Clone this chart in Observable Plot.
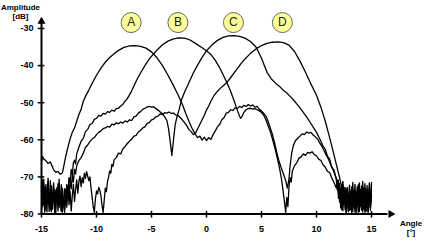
<!DOCTYPE html>
<html>
<head>
<meta charset="utf-8">
<script src="https://cdn.jsdelivr.net/npm/d3@7"></script>
<script src="https://cdn.jsdelivr.net/npm/@observablehq/plot@0.6"></script>
<style>
  html, body { margin: 0; padding: 0; background: #fff; }
  #chart svg { display: block; }
</style>
</head>
<body>
<div id="chart"></div>
<script>
// ---- data: [angle °, amplitude dB] ----
const curveA = [[-15.0,-65.8],[-14.9,-64.5],[-14.8,-65.2],[-14.6,-65.6],[-14.4,-66.4],[-14.2,-66.0],[-14.0,-67.3],[-13.9,-68.1],[-13.7,-68.8],[-13.5,-68.5],[-13.3,-69.3],[-13.1,-68.9],[-13.0,-67.5],[-12.8,-64.5],[-12.6,-62.0],[-12.4,-59.8],[-12.2,-58.0],[-12.0,-56.8],[-11.8,-55.0],[-11.6,-53.2],[-11.4,-51.8],[-11.2,-49.6],[-11.0,-48.3],[-10.7,-46.6],[-10.4,-44.8],[-10.0,-42.6],[-9.6,-40.7],[-9.2,-39.1],[-8.8,-37.8],[-8.4,-36.8],[-8.0,-35.9],[-7.5,-35.1],[-7.0,-34.7],[-6.5,-34.6],[-6.0,-34.8],[-5.5,-35.3],[-5.0,-36.3],[-4.5,-37.9],[-4.0,-40.0],[-3.5,-42.6],[-3.0,-45.4],[-2.6,-47.8],[-2.2,-50.4],[-1.9,-52.8],[-1.6,-55.0],[-1.3,-57.0],[-1.0,-58.6],[-0.8,-59.4],[-0.6,-59.0],[-0.4,-60.1],[-0.2,-59.3],[0.0,-60.2],[0.2,-59.4],[0.4,-59.9],[0.6,-58.6],[0.8,-57.6],[1.0,-56.5],[1.2,-55.8],[1.4,-54.6],[1.6,-54.0],[1.8,-52.8],[2.0,-52.6],[2.2,-51.9],[2.4,-52.1],[2.6,-51.4],[2.8,-51.6],[3.0,-51.0],[3.2,-51.3],[3.4,-50.7],[3.6,-51.0],[3.8,-50.5],[4.0,-50.9],[4.2,-50.6],[4.4,-51.2],[4.6,-51.0],[4.8,-51.8],[5.0,-52.2],[5.2,-52.9],[5.4,-53.6],[5.6,-55.0],[5.8,-56.8],[6.0,-58.6],[6.2,-61.0],[6.4,-63.5],[6.6,-65.8],[6.8,-67.6],[7.0,-69.2],[7.2,-71.0],[7.35,-73.0],[7.5,-70.5],[7.6,-67.0],[7.75,-63.5],[7.9,-61.5],[8.1,-60.2],[8.3,-59.6],[8.5,-59.0],[8.7,-58.4],[8.9,-58.6],[9.1,-57.9],[9.3,-58.2],[9.5,-58.0],[9.7,-58.7],[9.9,-59.2],[10.1,-59.8],[10.3,-60.9],[10.5,-61.8],[10.7,-63.0],[10.9,-64.2],[11.1,-65.3],[11.3,-66.8],[11.5,-68.0],[11.7,-69.6],[11.9,-71.0],[12.0,-73.5],[12.1,-71.8],[12.2,-75.2],[12.3,-72.4],[12.4,-77.6],[12.5,-74.0],[12.6,-78.8],[12.7,-73.2],[12.8,-76.5],[12.9,-79.2],[13.0,-74.8],[13.1,-77.9],[13.2,-72.6],[13.3,-78.4],[13.4,-75.3],[13.5,-79.5],[13.6,-73.8],[13.7,-77.0],[13.8,-72.1],[13.9,-78.6],[14.0,-75.6],[14.1,-79.0],[14.2,-73.0],[14.3,-77.4],[14.4,-71.8],[14.5,-78.2],[14.6,-74.4],[14.7,-79.3],[14.8,-72.9],[14.9,-76.8],[15.0,-73.5]];

const curveB = [[-15.0,-72.5],[-14.9,-78.0],[-14.8,-70.6],[-14.7,-76.2],[-14.6,-73.0],[-14.5,-79.4],[-14.4,-71.2],[-14.3,-75.8],[-14.2,-78.9],[-14.1,-72.4],[-14.0,-77.3],[-13.9,-74.1],[-13.8,-79.6],[-13.7,-73.5],[-13.6,-76.9],[-13.5,-71.8],[-13.4,-78.2],[-13.3,-74.6],[-13.2,-79.3],[-13.1,-75.0],[-13.0,-77.8],[-12.9,-73.2],[-12.8,-76.4],[-12.7,-72.0],[-12.6,-74.5],[-12.5,-70.2],[-12.4,-71.5],[-12.3,-68.0],[-12.2,-69.4],[-12.1,-66.2],[-12.0,-65.5],[-11.9,-66.5],[-11.8,-63.8],[-11.6,-62.0],[-11.4,-60.4],[-11.2,-59.6],[-11.0,-57.8],[-10.8,-57.2],[-10.6,-55.9],[-10.4,-55.6],[-10.2,-54.5],[-10.0,-54.2],[-9.8,-53.4],[-9.6,-53.6],[-9.4,-52.9],[-9.2,-53.1],[-9.0,-52.4],[-8.8,-52.6],[-8.6,-52.0],[-8.4,-52.3],[-8.2,-51.6],[-8.0,-51.5],[-7.8,-50.9],[-7.6,-50.4],[-7.4,-49.6],[-7.2,-48.9],[-7.0,-47.9],[-6.8,-46.8],[-6.6,-45.5],[-6.3,-43.6],[-6.0,-42.0],[-5.6,-40.0],[-5.2,-38.2],[-4.8,-36.8],[-4.4,-35.5],[-4.0,-34.4],[-3.5,-33.4],[-3.0,-32.8],[-2.5,-32.5],[-2.0,-32.6],[-1.5,-33.1],[-1.0,-34.0],[-0.5,-35.0],[0.0,-36.0],[0.4,-37.0],[0.8,-38.6],[1.2,-40.6],[1.6,-43.0],[1.9,-44.9],[2.2,-47.0],[2.5,-49.4],[2.8,-52.0],[3.0,-53.6],[3.1,-54.2],[3.25,-53.6],[3.4,-52.6],[3.6,-51.9],[3.8,-51.6],[4.0,-51.5],[4.2,-51.7],[4.4,-51.6],[4.6,-51.9],[4.8,-52.2],[5.0,-52.6],[5.2,-53.4],[5.4,-54.6],[5.6,-56.2],[5.8,-57.8],[6.0,-59.8],[6.2,-62.0],[6.4,-64.5],[6.6,-67.0],[6.8,-70.2],[6.95,-73.5],[7.1,-77.0],[7.2,-79.6],[7.3,-75.5],[7.4,-78.0],[7.5,-72.6],[7.6,-70.2],[7.7,-71.4],[7.8,-68.5],[8.0,-67.0],[8.2,-66.2],[8.4,-65.0],[8.6,-64.6],[8.8,-63.8],[9.0,-64.2],[9.2,-63.4],[9.4,-63.6],[9.6,-63.2],[9.8,-64.0],[10.0,-64.3],[10.2,-65.2],[10.4,-65.6],[10.6,-66.8],[10.8,-67.4],[11.0,-68.5],[11.2,-68.9],[11.4,-70.4],[11.6,-71.6],[11.8,-73.0],[11.9,-71.4],[12.0,-75.8],[12.1,-73.1],[12.2,-78.4],[12.3,-74.6],[12.4,-79.1],[12.5,-72.8],[12.6,-76.9],[12.7,-79.5],[12.8,-74.0],[12.9,-77.5],[13.0,-72.2],[13.1,-78.8],[13.2,-75.4],[13.3,-79.4],[13.4,-73.6],[13.5,-76.6],[13.6,-79.2],[13.7,-74.9],[13.8,-78.0],[13.9,-71.6],[14.0,-77.2],[14.1,-74.3],[14.2,-79.5],[14.3,-73.0],[14.4,-76.0],[14.5,-79.1],[14.6,-72.3],[14.7,-77.6],[14.8,-74.8],[14.9,-79.0],[15.0,-75.0]];

const curveC = [[-15.0,-74.0],[-14.9,-70.8],[-14.8,-77.4],[-14.7,-72.6],[-14.6,-79.0],[-14.5,-74.8],[-14.4,-70.4],[-14.3,-77.8],[-14.2,-73.5],[-14.1,-79.4],[-14.0,-75.2],[-13.9,-71.6],[-13.8,-78.1],[-13.7,-76.0],[-13.6,-72.9],[-13.5,-79.2],[-13.4,-74.3],[-13.3,-77.0],[-13.2,-72.1],[-13.1,-79.5],[-13.0,-75.9],[-12.9,-78.6],[-12.8,-73.4],[-12.7,-76.8],[-12.6,-72.6],[-12.5,-75.1],[-12.4,-71.0],[-12.3,-73.2],[-12.2,-69.6],[-12.1,-71.4],[-12.0,-68.0],[-11.9,-69.2],[-11.8,-67.0],[-11.6,-65.6],[-11.4,-64.8],[-11.2,-63.6],[-11.0,-62.0],[-10.8,-61.4],[-10.6,-60.5],[-10.4,-59.8],[-10.2,-59.4],[-10.0,-58.6],[-9.8,-58.0],[-9.6,-57.6],[-9.4,-57.0],[-9.2,-56.8],[-9.0,-56.4],[-8.8,-56.6],[-8.6,-55.8],[-8.4,-56.0],[-8.2,-55.4],[-8.0,-55.7],[-7.8,-55.2],[-7.6,-55.5],[-7.4,-54.9],[-7.2,-55.2],[-7.0,-54.6],[-6.8,-54.8],[-6.6,-53.8],[-6.4,-53.6],[-6.2,-52.8],[-6.0,-52.4],[-5.8,-51.8],[-5.6,-51.5],[-5.4,-51.2],[-5.2,-51.0],[-5.0,-51.2],[-4.8,-51.1],[-4.6,-51.6],[-4.4,-52.0],[-4.2,-52.5],[-4.0,-53.0],[-3.8,-53.8],[-3.6,-54.8],[-3.45,-57.0],[-3.3,-60.5],[-3.15,-64.2],[-3.0,-60.0],[-2.85,-56.0],[-2.7,-54.0],[-2.5,-52.0],[-2.3,-49.5],[-2.0,-47.2],[-1.6,-44.6],[-1.2,-42.0],[-0.8,-39.8],[-0.4,-37.8],[0.0,-36.0],[0.5,-34.4],[1.0,-33.2],[1.5,-32.4],[2.0,-32.0],[2.5,-31.9],[3.0,-32.1],[3.5,-32.6],[4.0,-33.5],[4.5,-35.0],[5.0,-38.0],[5.5,-41.8],[5.9,-43.6],[6.3,-44.8],[6.7,-45.8],[7.0,-46.7],[7.3,-47.4],[7.6,-48.3],[7.9,-49.2],[8.2,-50.3],[8.5,-51.4],[8.8,-52.6],[9.1,-53.8],[9.4,-55.2],[9.7,-56.6],[10.0,-58.0],[10.2,-59.2],[10.4,-60.4],[10.6,-61.8],[10.8,-62.6],[11.0,-64.4],[11.2,-65.2],[11.4,-67.5],[11.6,-68.2],[11.8,-70.8],[11.9,-73.6],[12.0,-70.9],[12.1,-76.8],[12.2,-73.0],[12.3,-78.9],[12.4,-72.2],[12.5,-77.4],[12.6,-74.6],[12.7,-79.6],[12.8,-72.8],[12.9,-76.2],[13.0,-79.0],[13.1,-73.9],[13.2,-77.2],[13.3,-71.5],[13.4,-78.0],[13.5,-74.2],[13.6,-79.6],[13.7,-72.6],[13.8,-76.4],[13.9,-79.3],[14.0,-73.4],[14.1,-77.8],[14.2,-71.2],[14.3,-78.6],[14.4,-75.0],[14.5,-79.4],[14.6,-73.6],[14.7,-76.9],[14.8,-71.6],[14.9,-78.3],[15.0,-72.0]];

const curveD = [[-15.0,-79.0],[-14.9,-73.6],[-14.8,-76.0],[-14.7,-79.5],[-14.6,-72.0],[-14.5,-77.2],[-14.4,-74.8],[-14.3,-79.3],[-14.2,-71.0],[-14.1,-76.5],[-14.0,-78.7],[-13.9,-72.7],[-13.8,-75.4],[-13.7,-79.6],[-13.6,-74.2],[-13.5,-77.6],[-13.4,-70.6],[-13.3,-76.3],[-13.2,-79.1],[-13.1,-73.0],[-13.0,-77.0],[-12.9,-79.6],[-12.8,-74.4],[-12.7,-78.2],[-12.6,-72.5],[-12.5,-77.5],[-12.4,-73.8],[-12.3,-79.2],[-12.2,-75.0],[-12.1,-72.0],[-12.0,-76.6],[-11.9,-73.4],[-11.8,-70.8],[-11.7,-74.4],[-11.6,-71.2],[-11.5,-69.8],[-11.4,-72.6],[-11.3,-70.2],[-11.2,-71.6],[-11.1,-69.0],[-11.0,-70.4],[-10.9,-68.6],[-10.8,-69.8],[-10.7,-71.0],[-10.6,-70.0],[-10.5,-72.8],[-10.4,-75.4],[-10.3,-78.0],[-10.2,-79.6],[-10.1,-76.0],[-10.0,-73.8],[-9.9,-74.6],[-9.8,-72.8],[-9.7,-73.6],[-9.6,-75.0],[-9.5,-77.6],[-9.4,-79.6],[-9.3,-76.4],[-9.2,-73.0],[-9.1,-74.0],[-9.0,-71.2],[-8.9,-70.0],[-8.8,-68.4],[-8.7,-69.0],[-8.6,-66.6],[-8.5,-67.2],[-8.4,-65.4],[-8.2,-64.8],[-8.0,-63.6],[-7.8,-63.8],[-7.6,-62.4],[-7.4,-61.8],[-7.2,-61.0],[-7.0,-60.4],[-6.8,-59.8],[-6.6,-59.0],[-6.4,-58.8],[-6.2,-57.9],[-6.0,-57.5],[-5.8,-56.8],[-5.6,-56.5],[-5.4,-55.6],[-5.2,-55.4],[-5.0,-54.6],[-4.8,-54.4],[-4.6,-53.8],[-4.4,-53.6],[-4.2,-53.0],[-4.0,-53.2],[-3.8,-52.7],[-3.6,-52.8],[-3.4,-52.5],[-3.2,-52.9],[-3.0,-52.8],[-2.8,-53.3],[-2.6,-53.4],[-2.4,-54.0],[-2.2,-54.6],[-2.0,-55.4],[-1.8,-56.2],[-1.6,-57.2],[-1.4,-57.8],[-1.2,-58.6],[-1.0,-58.2],[-0.8,-57.0],[-0.6,-55.8],[-0.4,-54.6],[-0.2,-53.4],[0.0,-52.0],[0.2,-50.9],[0.4,-49.6],[0.7,-48.0],[1.0,-46.9],[1.3,-46.0],[1.6,-45.2],[1.9,-44.4],[2.3,-42.8],[2.7,-41.2],[3.1,-39.6],[3.5,-38.2],[4.0,-36.7],[4.5,-35.5],[5.0,-34.6],[5.5,-34.0],[6.0,-33.7],[6.5,-33.6],[7.0,-33.8],[7.5,-34.5],[8.0,-36.2],[8.5,-38.8],[9.0,-41.8],[9.5,-45.0],[10.0,-48.0],[10.4,-51.2],[10.8,-55.0],[11.2,-59.5],[11.5,-63.0],[11.8,-66.6],[12.1,-70.2],[12.3,-73.0],[12.4,-71.2],[12.5,-75.6],[12.6,-72.8],[12.7,-78.0],[12.8,-75.2],[12.9,-79.4],[13.0,-73.4],[13.1,-76.8],[13.2,-79.6],[13.3,-74.5],[13.4,-77.4],[13.5,-72.0],[13.6,-78.5],[13.7,-75.8],[13.8,-79.6],[13.9,-73.7],[14.0,-77.9],[14.1,-72.5],[14.2,-78.7],[14.3,-76.2],[14.4,-79.5],[14.5,-73.2],[14.6,-77.0],[14.7,-79.6],[14.8,-74.0],[14.9,-78.0],[15.0,-71.5]];

const beamLabels = ["A", "B", "C", "D"];
const beamAngles = [-6.85, -2.6, 2.45, 6.9];
const xTicks = [-15, -10, -5, 0, 5, 10, 15];
const yTicks = [-30, -40, -50, -60, -70, -80];
const yTitle = ["Amplitude", "[dB]"];
const xTitle = ["Angle", "[°]"];

// ---- chart ----
const font = "'Liberation Sans', Arial, sans-serif";
const curves = [curveA, curveB, curveC, curveD];

const chart = Plot.plot({
  width: 425,
  height: 242,
  marginLeft: 41,
  marginRight: 54,
  marginTop: 28,
  marginBottom: 28.5,
  x: {domain: [-15, 15], axis: null},
  y: {domain: [-80, -30], axis: null},
  style: {fontFamily: font, background: "#fff", overflow: "visible"},
  marks: [
    // curves
    ...curves.map(c => Plot.line(c, {x: d => d[0], y: d => d[1], stroke: "#000", strokeWidth: 1.3})),
    // axis lines
    Plot.ruleY([-80], {x1: -15, x2: 16.5, stroke: "#000", strokeWidth: 2}),
    Plot.ruleX([-15], {y1: -80, y2: -28.6, stroke: "#000", strokeWidth: 2}),
    Plot.dot([0], {x: 16.75, y: -80, symbol: "triangle", r: 3, fill: "#000", rotate: 90}),
    Plot.dot([0], {x: -15, y: -28.1, symbol: "triangle", r: 3, fill: "#000"}),
    // ticks (crossing the axes)
    Plot.ruleX(xTicks, {x: d => d, y1: -81.1, y2: -79.3, stroke: "#000", strokeWidth: 1.5}),
    Plot.ruleY(yTicks, {y: d => d, x1: -15.3, x2: -14.7, stroke: "#000", strokeWidth: 1.5}),
    // tick labels
    Plot.text(yTicks, {x: -15, y: d => d, text: d => String(d), textAnchor: "end", dx: -8, fontSize: 9, fontWeight: "bold", fill: "#000"}),
    Plot.text(xTicks, {x: d => d, y: -80, text: d => String(d), dy: 15, fontSize: 9, fontWeight: "bold", fill: "#000"}),
    // beam labels
    Plot.dot(beamAngles, {x: d => d, y: -28.4, r: 10, fill: "#ffff99", stroke: "#666", strokeWidth: 1}),
    Plot.text(beamAngles, {x: d => d, y: -28.4, text: (d, i) => beamLabels[i], fontSize: 12, fill: "#222"})
  ]
});

// axis titles positioned around the plot frame
const svg = d3.select(chart);
const yt = svg.append("g").attr("font-family", font).attr("font-size", 8).attr("font-weight", "bold").attr("text-anchor", "middle");
yt.append("text").attr("x", 20.5).attr("y", 9.5).text(yTitle[0]);
yt.append("text").attr("x", 20.5).attr("y", 19).text(yTitle[1]);
const xt = svg.append("g").attr("font-family", font).attr("font-size", 8).attr("font-weight", "bold").attr("text-anchor", "middle");
xt.append("text").attr("x", 411).attr("y", 225.5).text(xTitle[0]);
xt.append("text").attr("x", 411).attr("y", 235).text(xTitle[1]);

document.getElementById("chart").appendChild(chart);
</script>
</body>
</html>
